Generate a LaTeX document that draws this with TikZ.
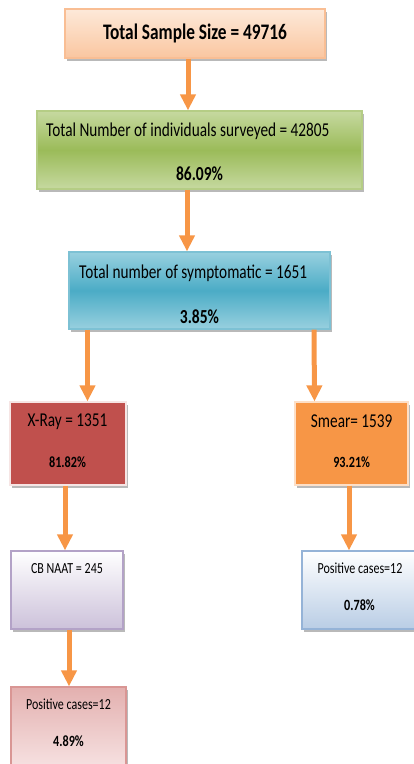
\documentclass[tikz,border=0pt]{standalone}
\usepackage{fontspec}
\setmainfont{Carlito}[FakeStretch=0.78]
\usepackage{tikz}
\usetikzlibrary{arrows.meta,shadows}
\usepackage{xcolor}
\definecolor{arr}{HTML}{F79646}
\definecolor{peachT}{HTML}{FDE9D9}
\definecolor{peachB}{HTML}{FAC6A0}
\definecolor{peachE}{HTML}{F9BE94}
\definecolor{grnL}{HTML}{C6D9A0}
\definecolor{grnM}{HTML}{9BBB59}
\definecolor{grnE}{HTML}{B5CD85}
\definecolor{bluL}{HTML}{98D0DF}
\definecolor{bluM}{HTML}{4BACC6}
\definecolor{bluE}{HTML}{7DC1D4}
\definecolor{redF}{HTML}{C0504D}
\definecolor{oraF}{HTML}{F79646}
\definecolor{lavB}{HTML}{CCC1DA}
\definecolor{lavE}{HTML}{B3A2C7}
\definecolor{skyB}{HTML}{B9CDE5}
\definecolor{skyE}{HTML}{95B3D7}
\definecolor{pnkT}{HTML}{E3B0AF}
\definecolor{pnkB}{HTML}{F7E3E3}
\definecolor{pnkE}{HTML}{D99694}

\begin{document}
\begin{tikzpicture}[x=1pt,y=-1pt,line cap=butt,
  box/.style={line width=1.2pt,inner sep=0pt,
    drop shadow={shadow xshift=2pt,shadow yshift=-3pt,fill=black!50,opacity=.55}},
  flow/.style={draw=arr,line width=5pt,-{Triangle[length=16pt,width=15pt]}},
  head/.style={font=\bfseries\fontsize{22.2}{24}\selectfont},
  big/.style={inner sep=0pt,font=\fontsize{19.6}{22}\selectfont},
  bigpc/.style={inner sep=0pt,font=\bfseries\fontsize{19.9}{22}\selectfont},
  small/.style={inner sep=0pt,font=\fontsize{15.4}{18}\selectfont},
  smallpc/.style={inner sep=0pt,font=\bfseries\fontsize{15.6}{18}\selectfont}]
\useasboundingbox (0,0) rectangle (414,764);
% boxes
\node[box,draw=peachE,top color=peachT,bottom color=peachB,minimum width=260pt,minimum height=49pt,head] (total) at (195,33.5) {Total Sample Size = 49716};
\node[box,draw=grnE,top color=grnL,bottom color=grnL,middle color=grnM,minimum width=325pt,minimum height=78pt] (surv) at (199.5,150) {};
\node[box,draw=bluE,top color=bluL,bottom color=bluL,middle color=bluM,minimum width=261pt,minimum height=77pt] (sympt) at (199.5,290.5) {};
\node[box,draw=redF!15,fill=redF,minimum width=116pt,minimum height=83pt] (xray) at (68,443.5) {};
\node[box,draw=oraF!30,fill=oraF,minimum width=113pt,minimum height=83pt] (smear) at (351.5,443.5) {};
\node[box,draw=lavE,top color=white,bottom color=lavB,minimum width=112pt,minimum height=78pt] (cbnaat) at (67,590) {};
\node[box,draw=skyE,top color=white,bottom color=skyB,minimum width=118pt,minimum height=78pt] (smpos) at (361,590) {};
\node[box,draw=pnkE,top color=pnkT,bottom color=pnkB,minimum width=115pt,minimum height=83pt] (cbpos) at (68.5,728.5) {};
% texts
\node[big,anchor=west] (survtxt) at (46,131.7) {Total Number of individuals surveyed = 42805};
\node[bigpc] (survpc) at (199.5,174) {86.09\%};
\node[big,anchor=west] (sympttxt) at (79,273) {Total number of symptomatic = 1651};
\node[bigpc] (symptpc) at (199.5,316.7) {3.85\%};
\node[big] (xraytxt) at (67.5,421.7) {X-Ray = 1351};
\node[smallpc] (xraypc) at (67.5,461.7) {81.82\%};
\node[big] (smeartxt) at (351.7,421.7) {Smear= 1539};
\node[smallpc] (smearpc) at (351.7,461.7) {93.21\%};
\node[small] (cbnaattxt) at (67,568.3) {CB NAAT = 245};
\node[small] (smpostxt) at (360,568) {Positive cases=12};
\node[smallpc] (smpospc) at (359.5,605) {0.78\%};
\node[small] (cbpostxt) at (68.5,704) {Positive cases=12};
\node[smallpc] (cbpospc) at (68.5,741) {4.89\%};
% arrows
\draw[flow] ([xshift=-7pt]total.south) -- ([xshift=-11.5pt]surv.north);
\draw[flow] ([xshift=-12.5pt]surv.south) -- ([xshift=-12.5pt]sympt.north);
\draw[flow] ([xshift=-112pt]sympt.south) -- ([xshift=19.5pt]xray.north);
\draw[flow] ([xshift=114.5pt]sympt.south) -- ([xshift=-37pt]smear.north);
\draw[flow] ([xshift=-3pt]xray.south) -- ([xshift=-2pt]cbnaat.north);
\draw[flow] ([xshift=-2.5pt]smear.south) -- ([xshift=-12pt]smpos.north);
\draw[flow] ([xshift=2pt]cbnaat.south) -- ([xshift=0.5pt]cbpos.north);
\end{tikzpicture}
\end{document}
